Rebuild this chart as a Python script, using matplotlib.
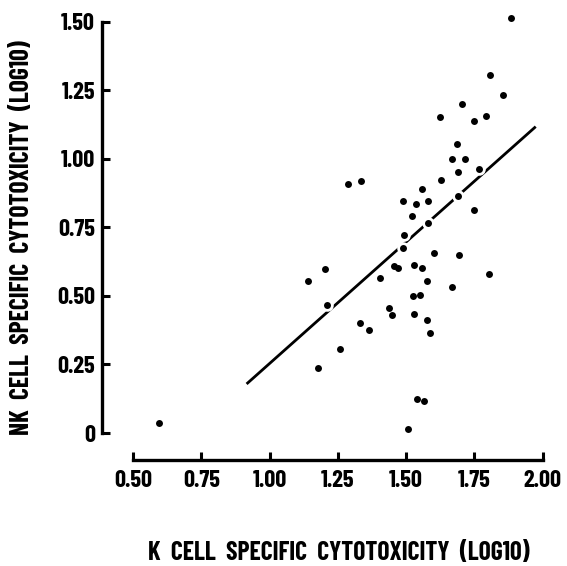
import matplotlib
matplotlib.use("Agg")
import matplotlib.pyplot as plt

# ---- data ----
k_cell = [1.885, 1.808, 1.854, 1.704, 1.626, 1.750, 1.793, 1.688, 1.667, 1.715,
          1.689, 1.766, 1.628, 1.286, 1.336, 1.557, 1.488, 1.538, 1.579, 1.690,
          1.523, 1.750, 1.581, 1.492, 1.490,
          1.603, 1.693, 1.203, 1.140, 1.455, 1.471, 1.531, 1.557, 1.405, 1.576,
          1.805, 1.670, 1.526, 1.552, 1.211, 1.438, 1.449, 1.531, 1.333, 1.366,
          1.577, 1.588, 1.258, 1.178, 1.541, 1.566, 1.508, 0.595]
nk_cell = [1.515, 1.305, 1.235, 1.202, 1.153, 1.138, 1.155, 1.054, 0.999, 0.999,
           0.954, 0.965, 0.922, 0.908, 0.918, 0.889, 0.847, 0.836, 0.846, 0.865,
           0.792, 0.814, 0.766, 0.724, 0.674,
           0.658, 0.648, 0.600, 0.555, 0.608, 0.602, 0.612, 0.603, 0.565, 0.555,
           0.580, 0.533, 0.500, 0.502, 0.467, 0.457, 0.432, 0.433, 0.400, 0.376,
           0.414, 0.366, 0.305, 0.237, 0.125, 0.118, 0.013, 0.035]
fit_x = [0.916, 1.975]
fit_y = [0.179, 1.118]

x_ticks = [0.50, 0.75, 1.00, 1.25, 1.50, 1.75, 2.00]
x_tick_labels = ["0.50", "0.75", "1.00", "1.25", "1.50", "1.75", "2.00"]
y_ticks = [0, 0.25, 0.50, 0.75, 1.00, 1.25, 1.50]
y_tick_labels = ["0", "0.25", "0.50", "0.75", "1.00", "1.25", "1.50"]
x_label = "K  CELL  SPECIFIC  CYTOTOXICITY  (LOG10)"
y_label = "NK  CELL  SPECIFIC  CYTOTOXICITY  (LOG10)"

# ---- font: condensed bold gothic, falling back to DejaVu Sans ----
plt.rcParams["font.family"] = ["Barlow Condensed", "Archivo Narrow", "DejaVu Sans"]
plt.rcParams["font.weight"] = "bold"

W, H = 567, 566
fig = plt.figure(figsize=(W / 100, H / 100), dpi=100)
fig.patch.set_facecolor("white")

left_px, right_px, top_px, bottom_px = 102, 545, 14, 460
ax = fig.add_axes([left_px / W, 1 - bottom_px / H,
                   (right_px - left_px) / W, (bottom_px - top_px) / H])
ax.set_xlim(0.3864, 2.009)
ax.set_ylim(-0.0985, 1.529)

# regression line
ax.plot(fit_x, fit_y, color="black", lw=2.0, solid_capstyle="butt", zorder=2)
# white halos then black dots
ax.plot(k_cell, nk_cell, "o", color="white", ms=9.0, mew=0, zorder=3)
ax.plot(k_cell, nk_cell, "o", color="black", ms=5.0, mew=0, zorder=4)

for s in ("top", "right"):
    ax.spines[s].set_visible(False)
ax.spines["left"].set_bounds(0, 1.5)
ax.spines["bottom"].set_bounds(0.5, 2.0)
ax.spines["left"].set_linewidth(2.4)
ax.spines["bottom"].set_linewidth(2.4)
ax.spines["left"].set_capstyle("projecting")
ax.spines["bottom"].set_capstyle("projecting")

ax.set_xticks(x_ticks)
ax.set_xticklabels(x_tick_labels)
ax.set_yticks(y_ticks)
ax.set_yticklabels(y_tick_labels)
ax.tick_params(axis="both", direction="in", length=6, width=2.2, labelsize=17.5)
ax.tick_params(axis="x", pad=7)
ax.tick_params(axis="y", pad=5)

ax.set_xlabel(x_label, fontsize=18.5, fontweight="bold")
ax.set_ylabel(y_label, fontsize=18.5, fontweight="bold", rotation=90,
              va="center", ha="center", rotation_mode="anchor")
ax.xaxis.set_label_coords((338.5 - left_px) / (right_px - left_px),
                          (bottom_px - 553) / (bottom_px - top_px))
ax.yaxis.set_label_coords((22 - left_px) / (right_px - left_px),
                          (bottom_px - 237.5) / (bottom_px - top_px))
ax.xaxis.label.set_va("center")

fig.savefig("out.png", dpi=100, facecolor="white")
